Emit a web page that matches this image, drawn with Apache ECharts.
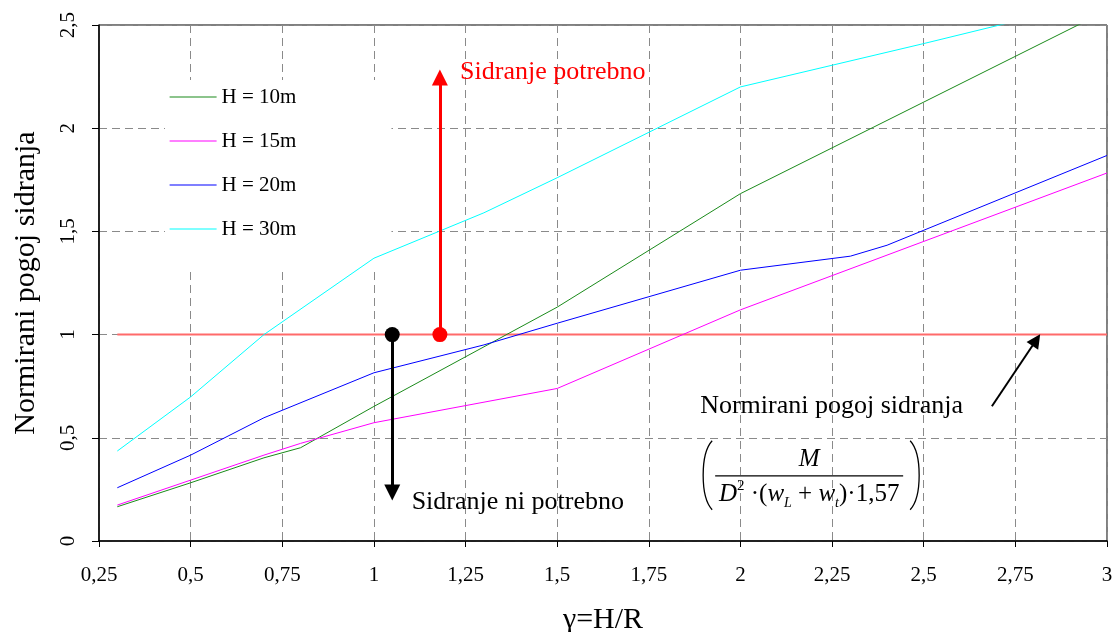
<!DOCTYPE html>
<html>
<head>
<meta charset="utf-8">
<script src="https://cdn.jsdelivr.net/npm/echarts@6/dist/echarts.min.js"></script>
<style>
html,body{margin:0;padding:0;background:#fff;}
#c{width:1113px;height:632px;}
</style>
</head>
<body>
<div id="c"></div>
<script>
// ---- data ----
const seriesNames = ['H = 10m', 'H = 15m', 'H = 20m', 'H = 30m'];
const h10X = [0.3, 0.5, 0.7, 0.8, 1.0, 1.5, 2.0, 3.0];
const h10Y = [0.166, 0.282, 0.403, 0.452, 0.652, 1.133, 1.683, 2.57];
const h15X = [0.3, 0.5, 0.7, 0.8, 1.0, 1.5, 2.0, 3.0];
const h15Y = [0.174, 0.295, 0.416, 0.473, 0.573, 0.739, 1.12, 1.783];
const h20X = [0.3, 0.5, 0.7, 1.0, 1.3, 1.5, 2.0, 2.3, 2.4, 3.0];
const h20Y = [0.258, 0.416, 0.597, 0.815, 0.95, 1.055, 1.312, 1.38, 1.433, 1.868];
const h30X = [0.3, 0.5, 0.7, 1.0, 1.3, 1.5, 2.0, 2.5, 3.0];
const h30Y = [0.436, 0.698, 1.0, 1.37, 1.59, 1.76, 2.20, 2.41, 2.627];
const limitX = [0.3, 3.0];
const limitY = [1.0, 1.0];
const xTicks = [0.25, 0.5, 0.75, 1, 1.25, 1.5, 1.75, 2, 2.25, 2.5, 2.75, 3];
const yTicks = [0, 0.5, 1, 1.5, 2, 2.5];
// annotation anchors (data space)
const upArrow = { x: 1.18, from: 1.0, to: 2.246 };
const downArrow = { x: 1.05, from: 1.0, to: 0.235 };
const pointer = { from: [2.686, 0.653], to: [2.807, 0.974] };
const textUp = { text: 'Sidranje potrebno', x: 1.235, y: 2.27 };
const textDown = { text: 'Sidranje ni potrebno', x: 1.103, y: 0.189 };
const textNorm = { text: 'Normirani pogoj sidranja', x: 1.89, y: 0.653 };
const formulaAnchor = [1.931, 0.316];

const FONT = '"Liberation Serif", "Times New Roman", serif';
const zip = (xs, ys) => xs.map((x, i) => [x, ys[i]]);
const fmt = v => String(v).replace('.', ',');

const chart = echarts.init(document.getElementById('c'), null, { renderer: 'canvas' });

const colors = ['#1a8a1a', '#ff00ff', '#0000ff', '#00ffff'];
const datas = [zip(h10X, h10Y), zip(h15X, h15Y), zip(h20X, h20Y), zip(h30X, h30Y)];

const series = datas.map((d, i) => ({
  name: seriesNames[i],
  type: 'line',
  data: d,
  symbol: 'none',
  color: colors[i],
  lineStyle: { width: 1, color: colors[i] },
  z: 3,
  silent: true
}));

series.unshift({
  name: 'limit',
  type: 'line',
  data: zip(limitX, limitY),
  symbol: 'none',
  lineStyle: { width: 2, color: '#ff6a6a' },
  z: 2,
  silent: true
});

series.push({
  name: 'annot',
  type: 'line',
  data: [],
  z: 5,
  silent: true,
  markLine: {
    silent: true,
    animation: false,
    label: { show: false },
    emphasis: { disabled: true },
    data: [
      [
        { coord: [upArrow.x, upArrow.from], symbol: 'circle', symbolSize: 15, lineStyle: { color: '#ff0000', width: 3, type: 'solid' }, itemStyle: { color: '#ff0000' } },
        { coord: [upArrow.x, upArrow.to], symbol: 'triangle', symbolSize: 16 }
      ],
      [
        { coord: [downArrow.x, downArrow.from], symbol: 'circle', symbolSize: 15, lineStyle: { color: '#000', width: 3, type: 'solid' }, itemStyle: { color: '#000' } },
        { coord: [downArrow.x, downArrow.to], symbol: 'triangle', symbolSize: 16 }
      ],
      [
        { coord: pointer.from, symbol: 'none', lineStyle: { color: '#000', width: 2, type: 'solid' }, itemStyle: { color: '#000' } },
        { coord: pointer.to, symbol: 'triangle', symbolSize: 14 }
      ]
    ]
  },
  markPoint: {
    silent: true,
    animation: false,
    symbol: 'circle',
    symbolSize: 0,
    data: [
      { coord: [textUp.x, textUp.y], label: { show: true, formatter: textUp.text, color: '#ff0000', fontFamily: FONT, fontSize: 26, position: 'right', distance: 0, align: 'left', verticalAlign: 'middle' } },
      { coord: [textDown.x, textDown.y], label: { show: true, formatter: textDown.text, color: '#000', fontFamily: FONT, fontSize: 26, position: 'right', distance: 0, align: 'left', verticalAlign: 'middle' } },
      { coord: [textNorm.x, textNorm.y], label: { show: true, formatter: textNorm.text, color: '#000', fontFamily: FONT, fontSize: 26, position: 'right', distance: 0, align: 'left', verticalAlign: 'middle' } }
    ]
  }
});

const option = {
  animation: false,
  backgroundColor: '#fff',
  textStyle: { fontFamily: FONT },
  grid: { left: 99, right: 6, top: 25, bottom: 91, containLabel: false, outerBoundsMode: 'none', show: true, borderColor: '#000', borderWidth: 1, backgroundColor: 'transparent' },
  legend: {
    data: seriesNames,
    orient: 'vertical',
    left: 165,
    top: 80,
    z: 1,
    backgroundColor: '#fff',
    padding: [6, 95, 31, 4],
    itemWidth: 47,
    itemHeight: 14,
    itemGap: 22,
    selectedMode: false,
    itemStyle: { color: 'rgba(0,0,0,0)', borderWidth: 0, opacity: 0 },
    lineStyle: { width: 1.2 },
    textStyle: { fontFamily: FONT, fontSize: 21, color: '#000', lineHeight: 22 }
  },
  xAxis: {
    type: 'value',
    min: 0.25,
    max: 3,
    interval: 0.25,
    name: 'γ=H/R',
    nameLocation: 'middle',
    nameGap: 64,
    nameTextStyle: { fontFamily: FONT, fontSize: 30, color: '#000' },
    axisLine: { onZero: false, lineStyle: { color: '#000', width: 1.5 } },
    axisTick: { show: true, inside: false, length: 6, lineStyle: { color: '#000' } },
    axisLabel: { fontFamily: FONT, fontSize: 21, color: '#000', margin: 24, formatter: v => fmt(v) },
    splitLine: { show: true, lineStyle: { color: '#8a8a8a', type: [8, 5], width: 1 } }
  },
  yAxis: {
    type: 'value',
    min: 0,
    max: 2.5,
    interval: 0.5,
    name: 'Normirani pogoj sidranja',
    nameLocation: 'middle',
    nameGap: 58,
    nameTextStyle: { fontFamily: FONT, fontSize: 30, color: '#000' },
    axisLine: { show: true, onZero: false, lineStyle: { color: '#000', width: 1.5 } },
    axisTick: { show: true, inside: false, length: 7, lineStyle: { color: '#000' } },
    axisLabel: { fontFamily: FONT, fontSize: 21, color: '#000', margin: 20, rotate: 90, formatter: v => fmt(v) },
    splitLine: { show: true, lineStyle: { color: '#8a8a8a', type: [8, 5], width: 1 } }
  },
  series: series
};

chart.setOption(option);

// formula box anchored to a data point
const p = chart.convertToPixel({ gridIndex: 0 }, formulaAnchor);
const barW = 188;
chart.setOption({
  graphic: [{
    type: 'group',
    x: p[0],
    y: p[1],
    silent: true,
    z: 10,
    children: [
      { type: 'line', shape: { x1: 0, y1: 0, x2: barW, y2: 0 }, style: { stroke: '#000', lineWidth: 1.2 } },
      { type: 'text', x: barW / 2, y: -4, style: { text: 'M', font: 'italic 25px ' + FONT, fill: '#000', align: 'center', verticalAlign: 'bottom' } },
      { type: 'text', x: barW / 2, y: 3, style: {
          text: '{i|D}{sup|2}{n| ·(}{i|w}{sub|L}{n| + }{i|w}{sub|t}{n|)·1,57}',
          align: 'center', verticalAlign: 'top', fill: '#000',
          rich: {
            i: { fontFamily: FONT, fontStyle: 'italic', fontSize: 25, lineHeight: 32, verticalAlign: 'middle' },
            n: { fontFamily: FONT, fontSize: 25, lineHeight: 32, verticalAlign: 'middle' },
            sup: { fontFamily: FONT, fontSize: 15, lineHeight: 30, verticalAlign: 'top' },
            sub: { fontFamily: FONT, fontStyle: 'italic', fontSize: 14, lineHeight: 32, verticalAlign: 'bottom' }
          }
        } },
      { type: 'bezierCurve', shape: { x1: -3, y1: -35, cpx1: -15, cpy1: -22, cpx2: -15, cpy2: 21, x2: -3, y2: 34 }, style: { stroke: '#000', lineWidth: 1.3, fill: 'none' } },
      { type: 'bezierCurve', shape: { x1: 195, y1: -35, cpx1: 207, cpy1: -22, cpx2: 207, cpy2: 21, x2: 195, y2: 34 }, style: { stroke: '#000', lineWidth: 1.3, fill: 'none' } }
    ]
  }]
});
</script>
</body>
</html>
